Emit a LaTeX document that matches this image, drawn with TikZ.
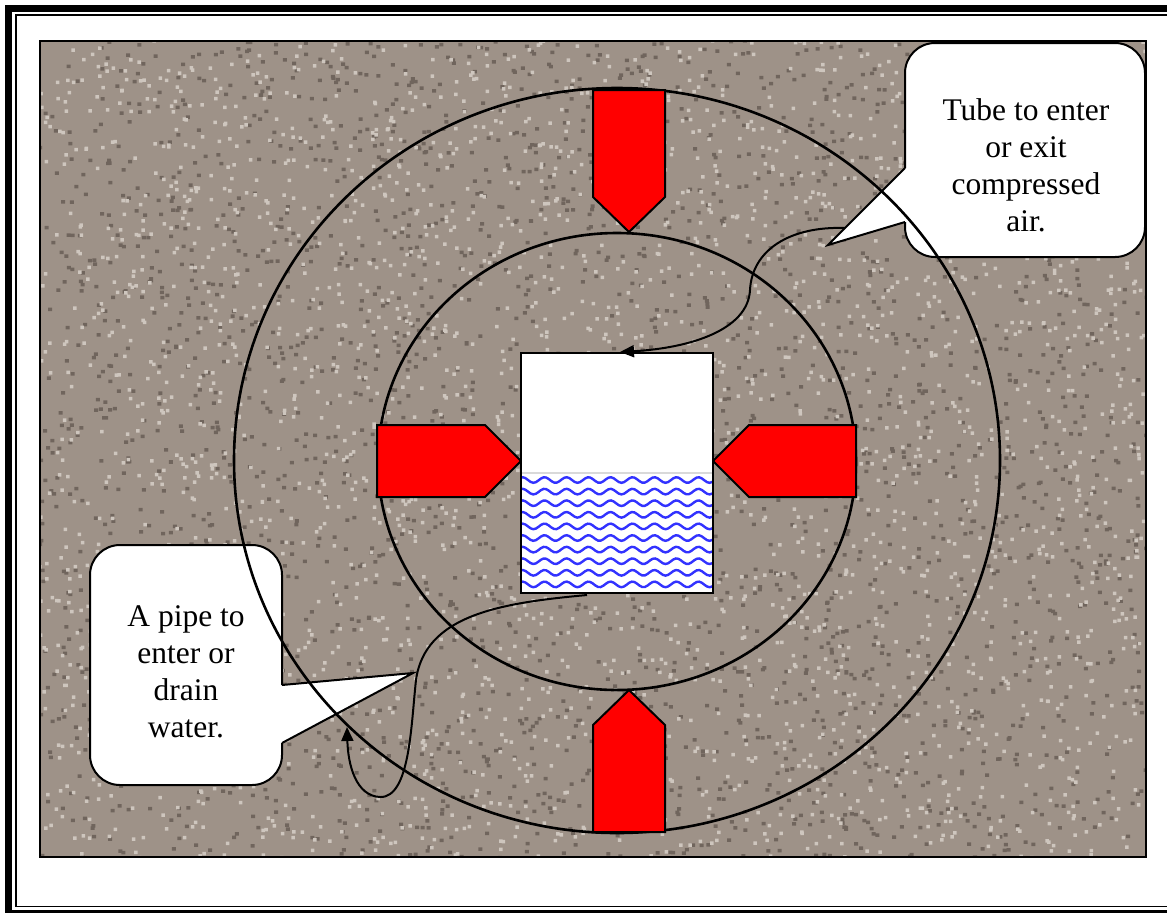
\documentclass[tikz,border=0pt]{standalone}
\usepackage{fontspec}
\setmainfont{Liberation Serif}
\usetikzlibrary{arrows.meta}
\definecolor{granite}{RGB}{158,146,136}
\definecolor{gdark}{RGB}{112,101,93}
\definecolor{glight}{RGB}{206,198,190}
\definecolor{redarrow}{RGB}{255,0,0}
\definecolor{waterblue}{RGB}{50,50,255}
\tikzset{
  redshape/.style={fill=redarrow, draw=black, line width=1pt, line join=miter},
  ring/.style={draw=black, line width=1.3pt},
  calloutfill/.style={fill=white},
  calloutline/.style={draw=black, line width=1pt},
  pipe/.style={draw=black, line width=1pt, -{Triangle[length=7pt,width=6pt]}},
  lbl/.style={align=center, font=\fontsize{15.75pt}{18.5pt}\selectfont, inner sep=0pt}
}
\begin{document}
\begin{tikzpicture}[x=0.5pt,y=-0.5pt]
\useasboundingbox (0,0) rectangle (1167,912);
\clip (0,0) rectangle (1167,912);
\fill[white] (0,0) rectangle (1167,912);
% frame
\draw[line width=3.5pt] (8.75,8.5) rectangle (1220,913);
\draw[line width=0.8pt] (15.8,15.2) rectangle (1210,906.5);
% textured panel
\begin{scope}
\clip (40,41) rectangle (1146,857);
\fill[granite] (40,41) rectangle (1146,857);
\pgfmathsetseed{7}
\fill[gdark] \foreach \i in {1,...,2800}{ ({38+1110*rnd},{39+820*rnd}) rectangle +(4,3.5) };
\fill[glight] \foreach \i in {1,...,2800}{ ({38+1110*rnd},{39+820*rnd}) rectangle +(3.5,3.5) };
\end{scope}
\draw[line width=1.2pt] (40,41) rectangle (1146,857);
% callout top right
\fill[calloutfill, rounded corners=15pt] (905,43) rectangle (1145,257);
\fill[calloutfill] (905,168) -- (828,245) -- (905,222) -- cycle;
\draw[calloutline, rounded corners=15pt] (905,222) -- (905,257) -- (1145,257) -- (1145,43) -- (905,43) -- (905,168);
\draw[calloutline] (905,168) -- (828,245) -- (905,222);
\node[lbl] (tubelbl) at (1026,165) {Tube to enter\\or exit\\compressed\\air.};
% callout bottom left
\fill[calloutfill, rounded corners=15pt] (90,545) rectangle (282,785);
\fill[calloutfill] (282,685) -- (413,673) -- (282,743) -- cycle;
\draw[calloutline, rounded corners=15pt] (282,685) -- (282,545) -- (90,545) -- (90,785) -- (282,785) -- (282,743);
\draw[calloutline] (282,685) -- (413,673) -- (282,743);
\node[lbl] (pipelbl) at (186,672) {A pipe to\\enter or\\drain\\water.};
% rings
\draw[ring] (617,460.5) ellipse [x radius=191.5pt, y radius=186.25pt];
\draw[ring] (617,461.5) ellipse [x radius=119.5pt, y radius=114.25pt];
% red arrows
\draw[redshape] (593,90) -- (665,90) -- (665,197) -- (629,232) -- (593,197) -- cycle;
\draw[redshape] (593,832) -- (665,832) -- (665,725) -- (629,690) -- (593,725) -- cycle;
\draw[redshape] (377,425) -- (485,425) -- (521,461) -- (485,497) -- (377,497) -- cycle;
\draw[redshape] (856,425) -- (749,425) -- (713,461) -- (749,497) -- (856,497) -- cycle;
% tank
\node[draw=black, line width=1pt, fill=white, minimum width=96pt, minimum height=60pt, inner sep=0pt] (air) at (617,413) {};
\node[draw=black, line width=1pt, fill=white, minimum width=96pt, minimum height=60pt, inner sep=0pt] (water) at (617,533) {};
\begin{scope}
\clip (521,473) rectangle (713,593);
\foreach \r in {0,...,10}{
  \draw[waterblue, line width=1.2pt] plot[domain=515:720, samples=80] (\x, {480+\r*11.6 + 2.8*sin(16.3636*\x)});
}
\end{scope}
\draw[line width=1pt] (521,473) rectangle (713,593);
\draw[line width=0.6pt, white!70!gray] (522,473) -- (712,473);
% pipes
\coordinate (tubestart) at (845,228);
\coordinate (tubeend) at (620,352);
\draw[pipe] (tubestart) .. controls (790,226) and (752,250) .. (750,290) .. controls (748,330) and (690,348) .. (tubeend);
\coordinate (pipestart) at (587,595);
\coordinate (pipeend) at (347,727);
\draw[pipe] (pipestart) .. controls (500,603) and (425,615) .. (416,680) .. controls (411,725) and (410,798) .. (380,797) .. controls (356,796) and (348,765) .. (pipeend);
\end{tikzpicture}
\end{document}
